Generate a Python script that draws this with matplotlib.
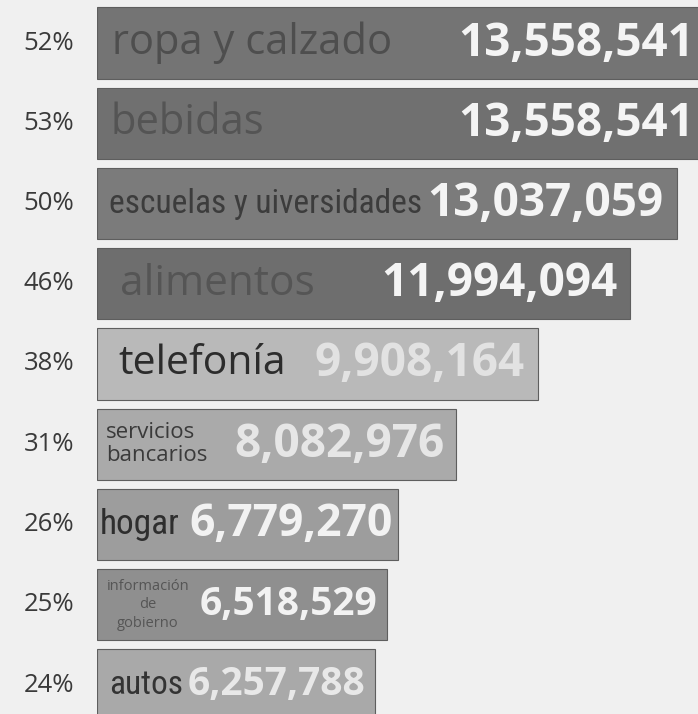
import matplotlib
matplotlib.use("Agg")
import matplotlib.pyplot as plt
from matplotlib import font_manager, transforms

# ---- data ----
categories = ["ropa y calzado", "bebidas", "escuelas y uiversidades", "alimentos",
              "telefonía", "servicios\nbancarios", "hogar",
              "información\nde\ngobierno", "autos"]
values = [13558541, 13558541, 13037059, 11994094, 9908164, 8082976,
          6779270, 6518529, 6257788]
percents = [52, 53, 50, 46, 38, 31, 26, 25, 24]

# ---- style ----
bar_colors = ["#747474", "#707070", "#7b7b7b", "#6e6e6e", "#b9b9b9",
              "#aaaaaa", "#9d9d9d", "#8f8f8f", "#a9a9a9"]
label_colors = ["#4e4e4e", "#545454", "#3c3c3c", "#555555", "#2c2c2c",
                "#3a3a3a", "#2e2e2e", "#555555", "#333333"]
value_colors = ["#f4f4f4", "#f4f4f4", "#f4f4f4", "#f4f4f4", "#e2e2e2",
                "#e6e6e6", "#f2f2f2", "#f2f2f2", "#e8e8e8"]
label_sizes = [30, 30, 24, 30.5, 29.5, 16, 25.5, 10.5, 24]
label_offsets = [15, 14, 12, 23, 21, 9, 3, 51, 12]
label_narrow = [False, False, True, False, False, False, True, False, True]
label_ha = ["left"] * 7 + ["center", "left"]
label_ls = [1.0, 1.0, 1.0, 1.0, 1.0, 1.1, 1.0, 1.3, 1.0]
value_sizes = [33, 33, 33, 33, 33, 33, 32, 28, 28]
value_pads = [6, 6, 13, 13, 13, 12, 6, 10, 10]


def has_font(name):
    try:
        font_manager.findfont(font_manager.FontProperties(family=name),
                              fallback_to_default=False)
        return True
    except Exception:
        return False


def first_font(cands):
    for c in cands:
        if has_font(c):
            return c
    return "DejaVu Sans"


main_font = first_font(["Open Sans", "Noto Sans", "DejaVu Sans"])
narrow_font = first_font(["Roboto Condensed", "Fira Sans Condensed",
                          "PT Sans Narrow", "Asap Condensed",
                          "Barlow Semi Condensed", "Archivo Narrow"])

W, H = 698, 714
fig = plt.figure(figsize=(W / 100, H / 100), dpi=100)
bg = "#f0f0f0"
fig.patch.set_facecolor(bg)

left_px = 97
scale_px = 603  # pixels covered by the largest value
xmax = values[0] * (W - left_px) / scale_px
ax = fig.add_axes([left_px / W, 0, (W - left_px) / W, 1])
ax.set_facecolor(bg)
ax.set_xlim(0, xmax)

pitch = 80.25
c0 = 43
ax.set_ylim((H - c0) / pitch, -c0 / pitch)
ax.axis("off")

ys = list(range(len(values)))
ax.barh(ys, values, height=0.89, color=bar_colors, edgecolor="#5e5e5e",
        linewidth=0.8)

trans_pct = transforms.blended_transform_factory(fig.transFigure, ax.transData)
for i, p in enumerate(percents):
    ax.text(74 / W, i, f"{p}%", transform=trans_pct, ha="right",
            va="center", fontsize=18.5, color="#3a3a3a", family=main_font)

for i, (cat, v) in enumerate(zip(categories, values)):
    fam = narrow_font if label_narrow[i] else main_font
    ax.annotate(cat, xy=(0, i), xytext=(label_offsets[i], 0),
                textcoords="offset pixels", ha=label_ha[i], va="center",
                fontsize=label_sizes[i], color=label_colors[i], family=fam,
                fontweight="normal",
                linespacing=label_ls[i], annotation_clip=False,
                multialignment="center" if label_ha[i] == "center" else "left")
    ax.annotate(f"{v:,}", xy=(v, i), xytext=(-value_pads[i], 0),
                textcoords="offset pixels", ha="right", va="center",
                fontsize=value_sizes[i], fontweight="bold",
                color=value_colors[i], family=main_font, annotation_clip=False)

fig.savefig("out.png", dpi=100, facecolor=bg)
